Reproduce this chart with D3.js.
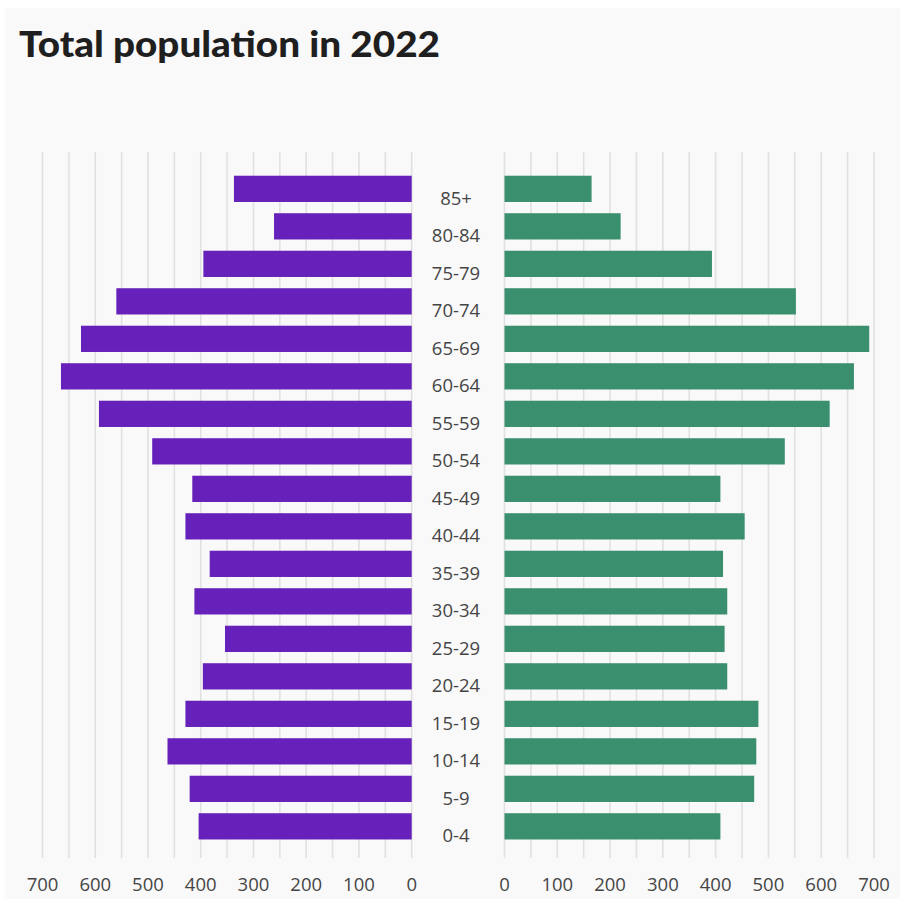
<!DOCTYPE html>
<html>
<head>
<meta charset="utf-8">
<script src="https://cdn.jsdelivr.net/npm/d3@7"></script>
<style>
  html, body { margin: 0; padding: 0; background: #ffffff; }
  svg { display: block; }
</style>
</head>
<body>
<svg id="chart" width="904" height="906"></svg>
<script>
const categories = ["85+","80-84","75-79","70-74","65-69","60-64","55-59","50-54","45-49","40-44","35-39","30-34","25-29","20-24","15-19","10-14","5-9","0-4"];
const leftValues  = [337, 261, 395, 560, 627, 665, 593, 492, 416, 429, 383, 412, 354, 396, 429, 463, 421, 404];
const rightValues = [165, 220, 393, 552, 691, 662, 616, 531, 409, 455, 414, 422, 417, 422, 481, 477, 473, 409];
const tickValues = [0, 100, 200, 300, 400, 500, 600, 700];
const gridValues = [0, 50, 100, 150, 200, 250, 300, 350, 400, 450, 500, 550, 600, 650, 700];
const title = "Total population in 2022";

const svg = d3.select("#chart");

svg.append("rect")
  .attr("x", 5).attr("y", 8).attr("width", 895).attr("height", 891)
  .attr("fill", "#f9f9f9");

svg.append("text")
  .attr("x", 19).attr("y", 57)
  .attr("font-family", "Lato, 'Open Sans', sans-serif")
  .attr("font-weight", 900)
  .attr("font-size", 36)
  .attr("fill", "#1f1f1f")
  .attr("textLength", 421)
  .attr("lengthAdjust", "spacingAndGlyphs")
  .text(title);

const xLeft = d3.scaleLinear().domain([0, 700]).range([411.7, 42.5]);
const xRight = d3.scaleLinear().domain([0, 700]).range([504.5, 874]);
const y = d3.scaleBand().domain(categories).range([170.1, 845.1]).paddingInner(0.3).paddingOuter(0.15);

const gridTop = 152, gridBottom = 858;

[xLeft, xRight].forEach(sc => {
  svg.append("g").selectAll("line")
    .data(gridValues).join("line")
    .attr("x1", d => sc(d)).attr("x2", d => sc(d))
    .attr("y1", gridTop).attr("y2", gridBottom)
    .attr("stroke", "#e1e1e1").attr("stroke-width", 1.6);
});

svg.append("g").selectAll("rect")
  .data(categories).join("rect")
  .attr("x", (d, i) => xLeft(leftValues[i]))
  .attr("y", d => y(d))
  .attr("width", (d, i) => xLeft(0) - xLeft(leftValues[i]))
  .attr("height", y.bandwidth())
  .attr("fill", "#6521b9");

svg.append("g").selectAll("rect")
  .data(categories).join("rect")
  .attr("x", xRight(0))
  .attr("y", d => y(d))
  .attr("width", (d, i) => xRight(rightValues[i]) - xRight(0))
  .attr("height", y.bandwidth())
  .attr("fill", "#3a8f6f");

svg.append("g").selectAll("text")
  .data(categories).join("text")
  .attr("x", 456)
  .attr("y", d => y(d) + y.bandwidth() / 2 + 9.5)
  .attr("dy", "0.35em")
  .attr("text-anchor", "middle")
  .attr("font-family", "'Source Sans Pro', 'Open Sans', sans-serif")
  .attr("font-size", 18.5)
  .attr("fill", "#454545")
  .text(d => d);

[xLeft, xRight].forEach(sc => {
  svg.append("g").selectAll("text")
    .data(tickValues).join("text")
    .attr("x", d => sc(d))
    .attr("y", 885)
    .attr("dy", "0.35em")
    .attr("text-anchor", "middle")
    .attr("font-family", "'Source Sans Pro', 'Open Sans', sans-serif")
    .attr("font-size", 18.5)
    .attr("fill", "#454545")
    .text(d => d);
});
</script>
</body>
</html>
